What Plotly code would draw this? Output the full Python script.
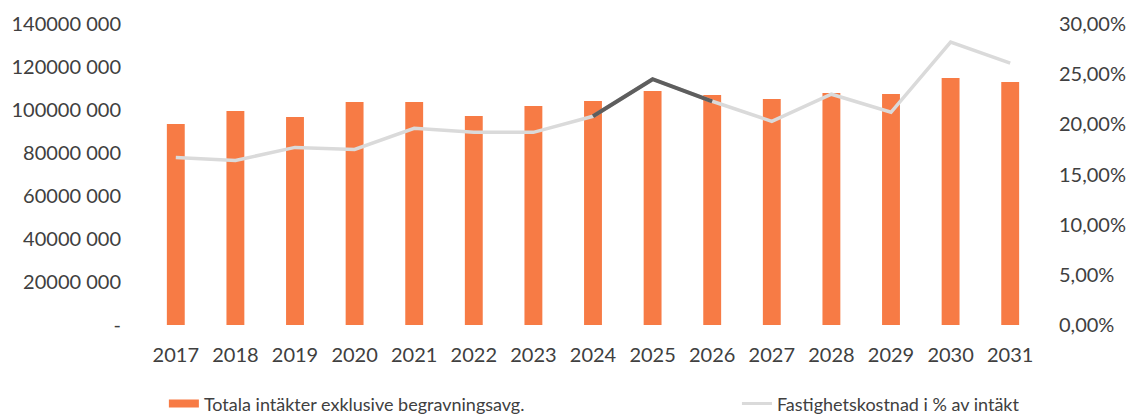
import plotly.graph_objects as go

years = ["2017", "2018", "2019", "2020", "2021", "2022", "2023", "2024",
         "2025", "2026", "2027", "2028", "2029", "2030", "2031"]
intakter = [93.5e6, 99.5e6, 96.7e6, 103.7e6, 103.7e6, 97.2e6, 101.9e6, 104.2e6,
            108.8e6, 107.0e6, 105.1e6, 107.9e6, 107.4e6, 114.9e6, 113.0e6]
fastighet_pct = [0.167, 0.164, 0.177, 0.175, 0.196, 0.192, 0.192, 0.208,
                 0.245, 0.223, 0.203, 0.230, 0.212, 0.282, 0.261]
highlight_years = ["2024", "2025", "2026"]

left_vals = [0, 20e6, 40e6, 60e6, 80e6, 100e6, 120e6, 140e6]
left_text = ["-", "20000 000", "40000 000", "60000 000", "80000 000",
             "100000 000", "120000 000", "140000 000"]
right_vals = [0, 0.05, 0.10, 0.15, 0.20, 0.25, 0.30]
right_text = ["0,00%", "5,00%", "10,00%", "15,00%", "20,00%", "25,00%", "30,00%"]

BAR_NAME = "Totala intäkter exklusive begravningsavg."
LINE_NAME = "Fastighetskostnad i % av intäkt"

FONT = "Lato"
TXT = "#404040"
ORANGE = "#F77B45"
LIGHT = "#DADADA"

hl_idx = [years.index(y) for y in highlight_years]

fig = go.Figure()
fig.add_trace(go.Bar(
    x=years, y=intakter, name=BAR_NAME, showlegend=False,
    marker=dict(color=ORANGE, line=dict(width=0)), width=0.3, yaxis="y"))
fig.add_trace(go.Scatter(
    x=years, y=fastighet_pct, name=LINE_NAME, showlegend=False,
    mode="lines", line=dict(color=LIGHT, width=3.5), yaxis="y2"))
fig.add_trace(go.Scatter(
    x=[years[i] for i in hl_idx], y=[fastighet_pct[i] for i in hl_idx],
    mode="lines", line=dict(color="#5E5E5E", width=4), yaxis="y2",
    showlegend=False, hoverinfo="skip"))
# legend entries (wide swatches like the original)
fig.add_trace(go.Scatter(
    x=[None], y=[None], name=BAR_NAME, mode="lines",
    line=dict(color=ORANGE, width=8), legend="legend", yaxis="y"))
fig.add_trace(go.Scatter(
    x=[None], y=[None], name=LINE_NAME, mode="lines",
    line=dict(color=LIGHT, width=3), legend="legend2", yaxis="y2"))

fig.update_layout(
    template="none",
    width=1140, height=419,
    margin=dict(l=146, r=100, t=24, b=94, autoexpand=False),
    paper_bgcolor="white", plot_bgcolor="white",
    font=dict(family=FONT, size=20, color=TXT),
    xaxis=dict(type="category", showgrid=False, showline=False, zeroline=False,
               automargin=False, ticks="", ticklabelstandoff=16,
               tickfont=dict(size=20, color=TXT)),
    yaxis=dict(range=[0, 140e6], tickvals=left_vals, ticktext=left_text,
               showgrid=False, zeroline=False, showline=False, ticks="",
               automargin=False, ticklabelstandoff=24,
               tickfont=dict(size=20, color=TXT)),
    yaxis2=dict(range=[0, 0.30], tickvals=right_vals, ticktext=right_text,
                overlaying="y", side="right", showgrid=False, zeroline=False,
                showline=False, ticks="", automargin=False, ticklabelstandoff=18,
                tickfont=dict(size=20, color=TXT)),
    legend=dict(orientation="h", x=0.020, xanchor="left", y=-0.262, yanchor="middle",
                font=dict(size=18, color=TXT), bgcolor="rgba(0,0,0,0)"),
    legend2=dict(orientation="h", x=0.661, xanchor="left", y=-0.262, yanchor="middle",
                 font=dict(size=18, color=TXT), bgcolor="rgba(0,0,0,0)"),
    showlegend=True,
)

fig.write_html(
    "out.html",
    config={"displayModeBar": False},
    post_script="document.body.style.margin='0';document.body.style.overflow='hidden';",
)
